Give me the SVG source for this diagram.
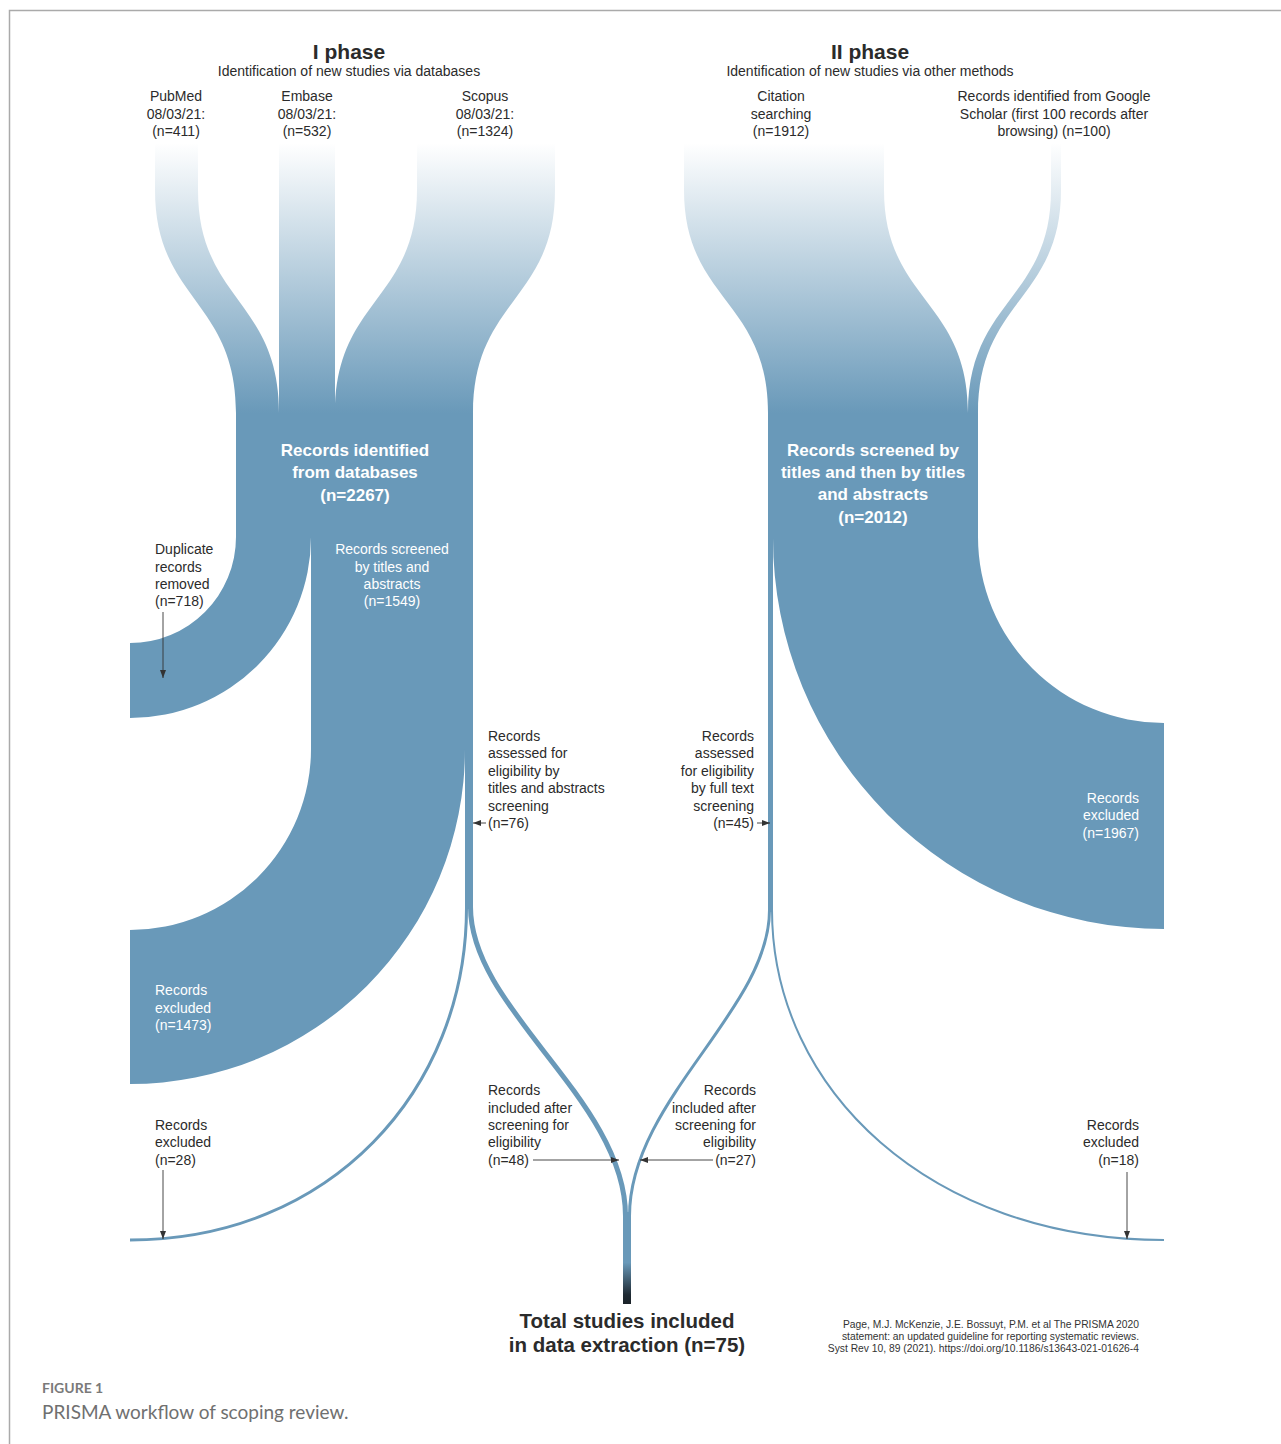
<svg xmlns="http://www.w3.org/2000/svg" width="1281" height="1444" viewBox="0 0 1281 1444">
<defs>
<style>
.t{font-family:"Liberation Sans",Arial,Helvetica,sans-serif;font-size:14px;fill:#2b2b2b}
.w{fill:#ffffff}
.b{font-weight:bold}
.hd{font-family:"Liberation Sans",Arial,sans-serif;font-size:21px;font-weight:bold;fill:#2b2b2b}
.nw{font-family:"Liberation Sans",Arial,sans-serif;font-size:17px;font-weight:bold;fill:#ffffff}
.tot{font-family:"Liberation Sans",Arial,sans-serif;font-size:20.5px;font-weight:bold;fill:#2b2b2b}
.cit{font-family:"Liberation Sans",Arial,sans-serif;font-size:10.3px;fill:#333333}
.band{fill:#6999b9}
.thin{fill:none;stroke:#6999b9}
.src{fill:url(#fade)}
.arr{stroke:#333333;stroke-width:0.9;fill:none;marker-end:url(#ah)}
</style>
<linearGradient id="fade" gradientUnits="userSpaceOnUse" x1="0" y1="143" x2="0" y2="413">
<stop offset="0" stop-color="#ffffff"/>
<stop offset="1" stop-color="#6999b9"/>
</linearGradient>
<linearGradient id="stem" gradientUnits="userSpaceOnUse" x1="0" y1="1212" x2="0" y2="1304">
<stop offset="0" stop-color="#6999b9"/>
<stop offset="0.55" stop-color="#6999b9"/>
<stop offset="0.9" stop-color="#1f2a33"/>
<stop offset="1" stop-color="#1a2228"/>
</linearGradient>
<marker id="ah" viewBox="0 0 8 6" refX="8" refY="3" markerWidth="8" markerHeight="6" markerUnits="userSpaceOnUse" orient="auto">
<path d="M0,0 L8,3 L0,6 Z" fill="#333333"/>
</marker>
</defs>
<rect x="0" y="0" width="1281" height="1444" fill="#ffffff"/>
<path d="M9.5,1444 L9.5,10.5 L1281,10.5" fill="none" stroke="#aaaaaa" stroke-width="1.5"/>

<g id="headers">
<text class="hd" x="349" y="59" text-anchor="middle">I phase</text>
<text class="t" x="349" y="76" text-anchor="middle">Identification of new studies via databases</text>
<text class="hd" x="870" y="59" text-anchor="middle">II phase</text>
<text class="t" x="870" y="76" text-anchor="middle">Identification of new studies via other methods</text>
</g>

<g id="connectors">
<path class="src" d="M155,143 L155,190 C155,300 236,300 236,413 L279,413 C279,300 198,300 198,190 L198,143 Z"/>
<path class="src" d="M279,143 L335,143 L335,413 L279,413 Z"/>
<path class="src" d="M417,143 L417,190 C417,300 335,300 335,413 L473,413 C473,300 555,300 555,190 L555,143 Z"/>
<path class="src" d="M684,143 L684,190 C684,300 768,300 768,413 L968,413 C968,300 884,300 884,190 L884,143 Z"/>
<path class="src" d="M1051,143 L1051,190 C1051,300 968,300 968,413 L978,413 C978,300 1061,300 1061,190 L1061,143 Z"/>

<path class="band" d="M236,537 A106,106 0 0 1 130,643 L130,718 A181,181 0 0 0 311,537 Z"/>
<path class="band" d="M311,537 L473,537 L473,750 L311,750 Z"/>
<path class="band" d="M311,749 A181,181 0 0 1 130,930 L130,1084 A335,335 0 0 0 465,749 Z"/>
<rect class="band" x="465" y="749" width="8" height="160"/>
<path class="thin" stroke-width="3" d="M466.5,908 C466.5,1090 330,1240 130,1240"/>
<path class="thin" stroke-width="5" d="M470.5,907 C470.5,1010 625.5,1100 625.5,1216"/>

<path class="band" d="M978,537 A186,186 0 0 0 1164,723 L1164,929 A391,391 0 0 1 773,537 Z"/>
<rect class="band" x="768" y="536" width="5" height="376"/>
<path class="thin" stroke-width="2" d="M772,910 C772,1090 931,1240 1164,1240"/>
<path class="thin" stroke-width="3" d="M769.5,910 C769.5,1010 629.5,1100 629.5,1216"/>

<rect x="623" y="1212" width="8" height="92" fill="url(#stem)"/>

<path class="arr" d="M163,612 L163,678"/>
<path class="arr" d="M486,823 L473,823"/>
<path class="arr" d="M757,823 L770,823"/>
<path class="arr" d="M163,1170 L163,1239"/>
<path class="arr" d="M1127,1172 L1127,1239"/>
<path class="arr" d="M533,1160 L619,1160"/>
<path class="arr" d="M713,1160 L640,1160"/>
</g>

<g id="n-pubmed">
<text class="t" x="176" y="101" text-anchor="middle">PubMed</text>
<text class="t" x="176" y="119" text-anchor="middle">08/03/21:</text>
<text class="t" x="176" y="136" text-anchor="middle">(n=411)</text>
</g>
<g id="n-embase">
<text class="t" x="307" y="101" text-anchor="middle">Embase</text>
<text class="t" x="307" y="119" text-anchor="middle">08/03/21:</text>
<text class="t" x="307" y="136" text-anchor="middle">(n=532)</text>
</g>
<g id="n-scopus">
<text class="t" x="485" y="101" text-anchor="middle">Scopus</text>
<text class="t" x="485" y="119" text-anchor="middle">08/03/21:</text>
<text class="t" x="485" y="136" text-anchor="middle">(n=1324)</text>
</g>
<g id="n-citation">
<text class="t" x="781" y="101" text-anchor="middle">Citation</text>
<text class="t" x="781" y="119" text-anchor="middle">searching</text>
<text class="t" x="781" y="136" text-anchor="middle">(n=1912)</text>
</g>
<g id="n-google">
<text class="t" x="1054" y="101" text-anchor="middle">Records identified from Google</text>
<text class="t" x="1054" y="119" text-anchor="middle">Scholar (first 100 records after</text>
<text class="t" x="1054" y="136" text-anchor="middle">browsing) (n=100)</text>
</g>

<g id="n-identified">
<rect class="band" x="236" y="413" width="237" height="125"/>
<text class="nw" x="355" y="456" text-anchor="middle">Records identified</text>
<text class="nw" x="355" y="478" text-anchor="middle">from databases</text>
<text class="nw" x="355" y="501" text-anchor="middle">(n=2267)</text>
</g>
<g id="n-screened2">
<rect class="band" x="768" y="413" width="210" height="125"/>
<text class="nw" x="873" y="456" text-anchor="middle">Records screened by</text>
<text class="nw" x="873" y="478" text-anchor="middle">titles and then by titles</text>
<text class="nw" x="873" y="500" text-anchor="middle">and abstracts</text>
<text class="nw" x="873" y="523" text-anchor="middle">(n=2012)</text>
</g>

<g id="n-duplicates">
<text class="t" x="155" y="554">Duplicate</text>
<text class="t" x="155" y="572">records</text>
<text class="t" x="155" y="589">removed</text>
<text class="t" x="155" y="606">(n=718)</text>
</g>
<g id="n-screened1">
<text class="t w" x="392" y="554" text-anchor="middle">Records screened</text>
<text class="t w" x="392" y="572" text-anchor="middle">by titles and</text>
<text class="t w" x="392" y="589" text-anchor="middle">abstracts</text>
<text class="t w" x="392" y="606" text-anchor="middle">(n=1549)</text>
</g>
<g id="n-assessed1">
<text class="t" x="488" y="741">Records</text>
<text class="t" x="488" y="758">assessed for</text>
<text class="t" x="488" y="776">eligibility by</text>
<text class="t" x="488" y="793">titles and abstracts</text>
<text class="t" x="488" y="811">screening</text>
<text class="t" x="488" y="828">(n=76)</text>
</g>
<g id="n-assessed2">
<text class="t" x="754" y="741" text-anchor="end">Records</text>
<text class="t" x="754" y="758" text-anchor="end">assessed</text>
<text class="t" x="754" y="776" text-anchor="end">for eligibility</text>
<text class="t" x="754" y="793" text-anchor="end">by full text</text>
<text class="t" x="754" y="811" text-anchor="end">screening</text>
<text class="t" x="754" y="828" text-anchor="end">(n=45)</text>
</g>
<g id="n-excluded1967">
<text class="t w" x="1139" y="803" text-anchor="end">Records</text>
<text class="t w" x="1139" y="820" text-anchor="end">excluded</text>
<text class="t w" x="1139" y="838" text-anchor="end">(n=1967)</text>
</g>
<g id="n-excluded1473">
<text class="t w" x="155" y="995">Records</text>
<text class="t w" x="155" y="1013">excluded</text>
<text class="t w" x="155" y="1030">(n=1473)</text>
</g>
<g id="n-excluded28">
<text class="t" x="155" y="1130">Records</text>
<text class="t" x="155" y="1147">excluded</text>
<text class="t" x="155" y="1165">(n=28)</text>
</g>
<g id="n-excluded18">
<text class="t" x="1139" y="1130" text-anchor="end">Records</text>
<text class="t" x="1139" y="1147" text-anchor="end">excluded</text>
<text class="t" x="1139" y="1165" text-anchor="end">(n=18)</text>
</g>
<g id="n-included48">
<text class="t" x="488" y="1095">Records</text>
<text class="t" x="488" y="1113">included after</text>
<text class="t" x="488" y="1130">screening for</text>
<text class="t" x="488" y="1147">eligibility</text>
<text class="t" x="488" y="1165">(n=48)</text>
</g>
<g id="n-included27">
<text class="t" x="756" y="1095" text-anchor="end">Records</text>
<text class="t" x="756" y="1113" text-anchor="end">included after</text>
<text class="t" x="756" y="1130" text-anchor="end">screening for</text>
<text class="t" x="756" y="1147" text-anchor="end">eligibility</text>
<text class="t" x="756" y="1165" text-anchor="end">(n=27)</text>
</g>
<g id="n-total">
<text class="tot" x="627" y="1328" text-anchor="middle">Total studies included</text>
<text class="tot" x="627" y="1352" text-anchor="middle">in data extraction (n=75)</text>
</g>
<g id="citation">
<text class="cit" x="1139" y="1328" text-anchor="end">Page, M.J. McKenzie, J.E. Bossuyt, P.M. et al The PRISMA 2020</text>
<text class="cit" x="1139" y="1340" text-anchor="end">statement: an updated guideline for reporting systematic reviews.</text>
<text class="cit" x="1139" y="1352" text-anchor="end">Syst Rev 10, 89 (2021). https://doi.org/10.1186/s13643-021-01626-4</text>
</g>
<g id="caption">
<text x="42" y="1393" font-family="Lato,'Open Sans',sans-serif" font-size="14px" font-weight="bold" fill="#7a7a7a">FIGURE 1</text>
<text x="42" y="1419" font-family="Lato,'Open Sans',sans-serif" font-size="19px" fill="#707070">PRISMA workflow of scoping review.</text>
</g>
</svg>
